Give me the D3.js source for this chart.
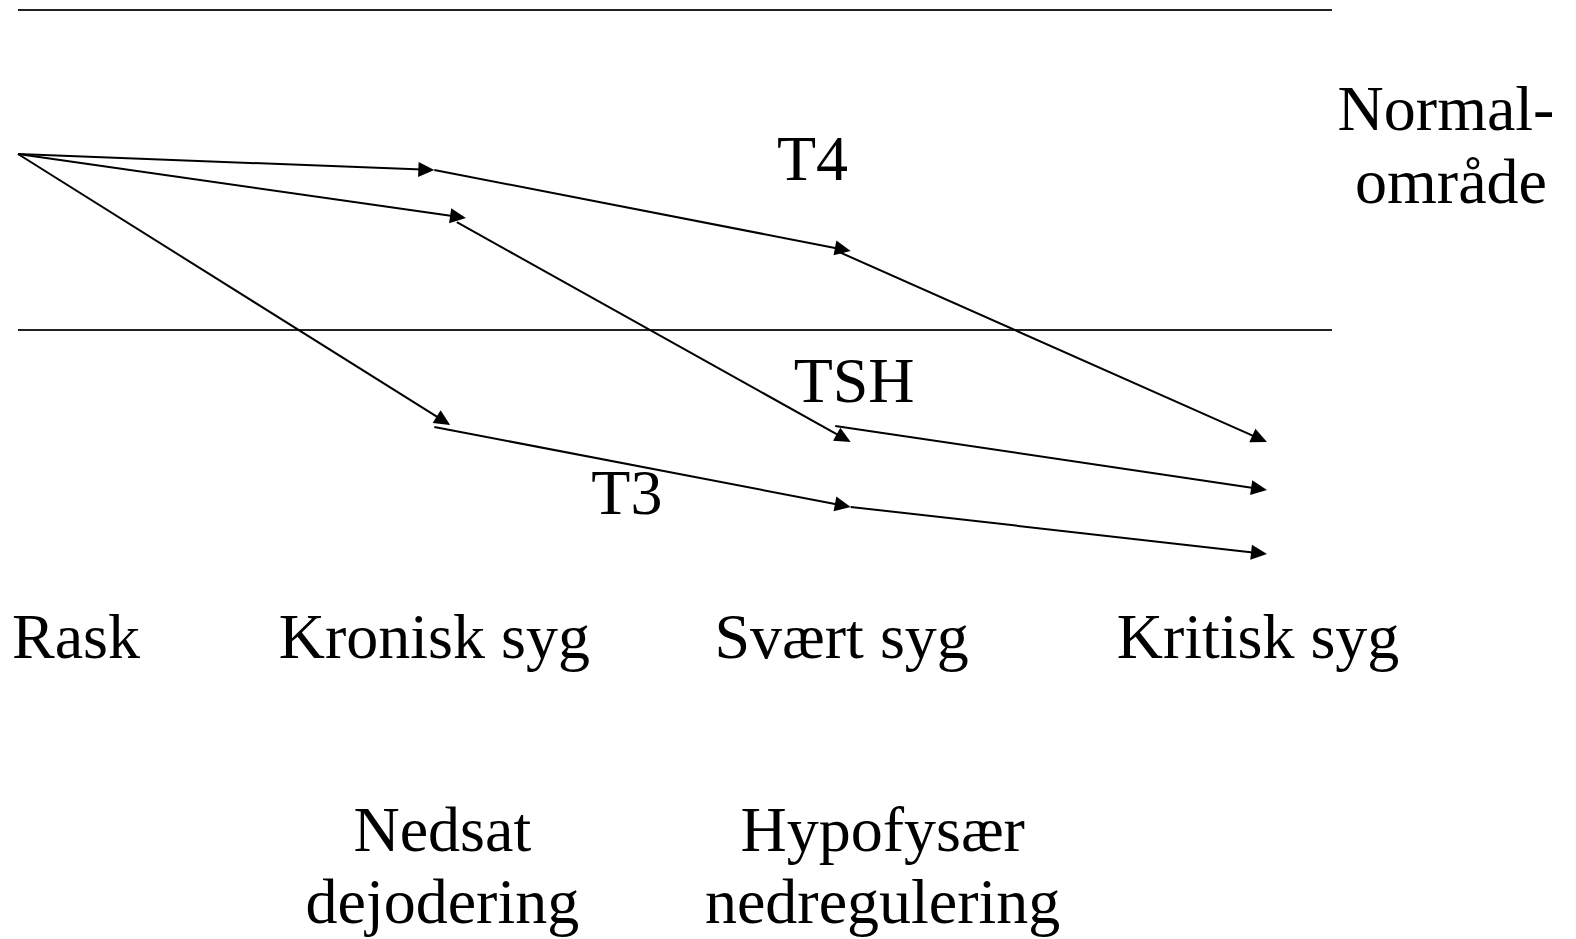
<!DOCTYPE html>
<html>
<head>
<meta charset="utf-8">
<script src="https://cdn.jsdelivr.net/npm/d3@7"></script>
<style>
  html, body { margin: 0; padding: 0; background: #fff; }
  svg { display: block; }
  text { font-family: "Liberation Serif", "Times New Roman", serif; fill: #000; }
</style>
</head>
<body>
<svg id="chart" width="1576" height="939"></svg>
<script>
// Stages (x categories)
const stages = ["Rask", "Kronisk syg", "Svært syg", "Kritisk syg"];
// Normal range bounds (level units)
const normalBounds = [100, 0];
const normalLabel = ["Normal-", "område"];
// Series: arrow segments [fromStage, fromLevel, toStage, toLevel]
const seriesNames = ["T4", "TSH", "T3"];
const t4Segments = [
  [0, 55, 1.0, 50],
  [1.0, 50, 2.0, 24.7],
  [1.97, 24.5, 3.0, -35]
];
const tshSegments = [
  [0, 55, 1.076, 35],
  [1.054, 33.7, 2.0, -35],
  [1.963, -30, 3.0, -50]
];
const t3Segments = [
  [0, 55, 1.038, -29.7],
  [1.0, -30.3, 2.0, -55.3],
  [2.0, -55.3, 3.0, -70]
];
// Mechanisms below the stages
const mechanisms = [
  { stage: 1, lines: ["Nedsat", "dejodering"] },
  { stage: 2, lines: ["Hypofysær", "nedregulering"] }
];

const svg = d3.select("#chart");
const x = d3.scaleLinear().domain([0, 3]).range([18, 1267]);
const y = d3.scaleLinear().domain([0, 100]).range([330, 10]);

// Normal range lines
svg.selectAll("line.bound")
  .data(normalBounds)
  .join("line")
  .attr("class", "bound")
  .attr("x1", x(0)).attr("x2", x(3.156))
  .attr("y1", d => y(d)).attr("y2", d => y(d))
  .attr("stroke", "#222").attr("stroke-width", 2);

// Arrows
const headLen = 16, headHalf = 7.5;
const allSegs = [t4Segments, tshSegments, t3Segments];
allSegs.forEach(segs => {
  const g = svg.append("g");
  g.selectAll("line")
    .data(segs)
    .join("line")
    .attr("x1", d => x(d[0])).attr("y1", d => y(d[1]))
    .attr("x2", d => {
      const x1 = x(d[0]), y1 = y(d[1]), x2 = x(d[2]), y2 = y(d[3]);
      const L = Math.hypot(x2 - x1, y2 - y1);
      return x2 - (x2 - x1) / L * (headLen - 4);
    })
    .attr("y2", d => {
      const x1 = x(d[0]), y1 = y(d[1]), x2 = x(d[2]), y2 = y(d[3]);
      const L = Math.hypot(x2 - x1, y2 - y1);
      return y2 - (y2 - y1) / L * (headLen - 4);
    })
    .attr("stroke", "#000").attr("stroke-width", 2);
  g.selectAll("path")
    .data(segs)
    .join("path")
    .attr("d", d => {
      const x1 = x(d[0]), y1 = y(d[1]), x2 = x(d[2]), y2 = y(d[3]);
      const L = Math.hypot(x2 - x1, y2 - y1);
      const ux = (x2 - x1) / L, uy = (y2 - y1) / L;
      const bx = x2 - ux * headLen, by = y2 - uy * headLen;
      return `M${x2},${y2}L${bx - uy * headHalf},${by + ux * headHalf}L${bx + uy * headHalf},${by - ux * headHalf}Z`;
    })
    .attr("fill", "#000");
});

const fs = 64;

// Series labels
const seriesLabelPos = [
  { name: "T4", s: 1.823, v: 47 },
  { name: "TSH", s: 1.863, v: -22.5 },
  { name: "T3", s: 1.377, v: -57.5 }
];
svg.selectAll("text.series")
  .data(seriesLabelPos)
  .join("text")
  .attr("class", "series")
  .attr("x", d => x(d.s)).attr("y", d => y(d.v))
  .attr("font-size", fs)
  .text(d => d.name);

// Stage labels
svg.selectAll("text.stage")
  .data(stages)
  .join("text")
  .attr("class", "stage")
  .attr("x", (d, i) => i === 0 ? x(0) - 6 : x(i) - (i === 1 ? 0 : 9))
  .attr("y", 658)
  .attr("text-anchor", (d, i) => i === 0 ? "start" : "middle")
  .attr("font-size", fs)
  .text(d => d);

// Normal range label
svg.append("text")
  .attr("x", 1444).attr("y", 130)
  .attr("text-anchor", "middle")
  .attr("font-size", fs)
  .selectAll("tspan")
  .data(normalLabel)
  .join("tspan")
  .attr("x", (d, i) => i === 0 ? 1446 : 1451)
  .attr("dy", (d, i) => i === 0 ? 0 : 73)
  .text(d => d);

// Mechanism labels
mechanisms.forEach(m => {
  svg.append("text")
    .attr("x", x(m.stage) + (m.stage === 1 ? 8 : 32)).attr("y", 851)
    .attr("text-anchor", "middle")
    .attr("font-size", fs)
    .selectAll("tspan")
    .data(m.lines)
    .join("tspan")
    .attr("x", x(m.stage) + (m.stage === 1 ? 8 : 32))
    .attr("dy", (d, i) => i === 0 ? 0 : 72)
    .text(d => d);
});
</script>
</body>
</html>
